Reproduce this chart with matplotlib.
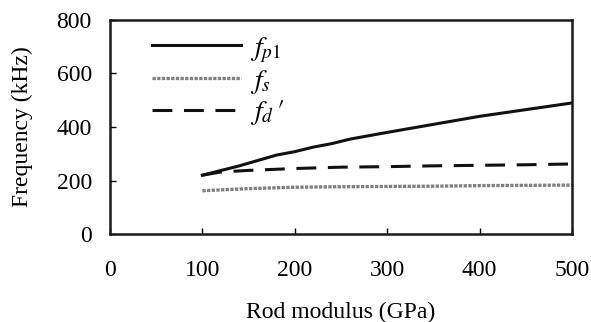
import numpy as np
import matplotlib.pyplot as plt

# --------------------------------------------------
# Data
# --------------------------------------------------
modulus_fp1 = [100, 140, 180, 200, 220, 240, 260, 300, 350, 400, 450, 500]
freq_fp1 = [220, 255, 295, 308, 325, 338, 355, 380, 410, 440, 465, 490]

modulus_fs = [100, 150, 200, 250, 300, 350, 400, 450, 500]
freq_fs = [162, 170, 175, 177, 178, 179, 181, 182, 183]

modulus_fd = [100, 120, 150, 200, 250, 300, 350, 400, 450, 500]
freq_fd = [220, 232, 238, 245, 250, 252, 255, 257, 259, 262]

x_ticks = [0, 100, 200, 300, 400, 500]
y_ticks = [0, 200, 400, 600, 800]

# --------------------------------------------------
# Plot settings
# --------------------------------------------------
plt.rcParams.update({
    'font.family': 'Liberation Serif',
    'mathtext.fontset': 'stix',
    'font.size': 17,
})

fig = plt.figure(figsize=(5.91, 3.22), dpi=100)
ax = fig.add_axes([0.186, 0.273, 0.782, 0.665])

ax.plot(modulus_fp1, freq_fp1, color='#111111', lw=2.2, label=r'$f_{p1}$')
ax.plot(modulus_fs, freq_fs, color='#808080', lw=2.4, linestyle=(0, (1, 0.4)),
        label=r'$f_s$')
ax.plot(modulus_fd, freq_fd, color='#111111', lw=2.2, linestyle=(0, (6.5, 3.8)),
        label=r"$f_d\,\prime$")

ax.set_xlim(0, 500)
ax.set_ylim(0, 800)
ax.set_xticks(x_ticks)
ax.set_yticks(y_ticks)
ax.tick_params(direction='in', length=4, width=1, labelsize=17)
ax.tick_params(axis='x', pad=19)
ax.tick_params(axis='y', pad=13)

for spine in ax.spines.values():
    spine.set_linewidth(1.8)
    spine.set_color('#1a1a1a')

ax.set_xlabel('Rod modulus (GPa)', fontsize=17, labelpad=15)
ax.set_ylabel('Frequency (kHz)', fontsize=17, labelpad=17)

ax.legend(loc='upper left', bbox_to_anchor=(0.038, 1.045), frameon=False,
          fontsize=20, handlelength=3.2, handletextpad=0.3, labelspacing=0.1)

fig.savefig('out.png', dpi=100)
